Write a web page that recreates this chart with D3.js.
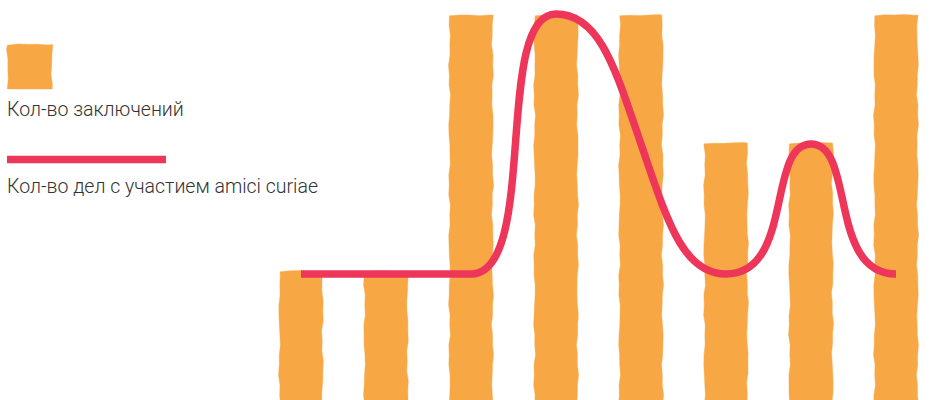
<!DOCTYPE html>
<html>
<head>
<meta charset="utf-8">
<script src="https://cdn.jsdelivr.net/npm/d3@7"></script>
<style>
  html, body { margin: 0; padding: 0; background: #fff; }
  svg { display: block; }
</style>
</head>
<body>
<svg id="chart" width="931" height="400"></svg>
<script>
// ---- data ----
const categories = ["1", "2", "3", "4", "5", "6", "7", "8"];
const conclusions = [1, 1, 3, 3, 3, 2, 2, 3];          // Кол-во заключений (bars)
const amiciCases  = [1, 1, 1, 3, 2, 1, 2, 1];          // Кол-во дел с участием amici curiae (line)
const legendLabels = ["Кол-во заключений", "Кол-во дел с участием amici curiae"];

// ---- styles ----
const barColor = "#F8A745";
const lineColor = "#EE365A";
const textColor = "#333333";

const svg = d3.select("#chart");

// scales
const x = d3.scalePoint().domain(categories).range([301, 896]);
const barW = 43;
const yBar = d3.scaleLinear().domain([0, 3]).range([399, 15]);
const yLine = d3.scaleLinear().domain([0, 3]).range([404, 14]);

// deterministic wobble for hand-drawn look
function wob(v, s) {
  return Math.sin(v * 0.11 + s * 1.7) * 0.7 + Math.sin(v * 0.29 + s * 3.1) * 0.45;
}
function roughRect(x0, x1, yTop, yBot, s) {
  const p = d3.path();
  const step = 10;
  p.moveTo(x0 + wob(yBot, s), yBot);
  for (let yy = yBot - step; yy > yTop; yy -= step) p.lineTo(x0 + wob(yy, s), yy);
  p.lineTo(x0 + wob(yTop, s) + 0.5, yTop + 0.8);
  for (let xx = x0 + step; xx < x1; xx += step) p.lineTo(xx, yTop + wob(xx, s + 5) * 0.6);
  p.lineTo(x1 + wob(yTop, s + 2), yTop);
  for (let yy = yTop + step; yy < yBot; yy += step) p.lineTo(x1 + wob(yy, s + 2), yy);
  p.lineTo(x1 + wob(yBot, s + 2), yBot);
  p.closePath();
  return p.toString();
}

// bars
svg.append("g").selectAll("path")
  .data(conclusions)
  .join("path")
  .attr("d", (d, i) => roughRect(x(categories[i]) - barW / 2, x(categories[i]) + barW / 2, yBar(d), 405, i * 2.3 + 1))
  .attr("fill", barColor)
  .attr("stroke", barColor)
  .attr("stroke-opacity", 0.5)
  .attr("stroke-width", 0.8);

// smoothed curve: horizontal tangents at extremes, steepened tangents elsewhere
function curveSmooth(unitPx) {
  return function (context) {
    return {
      areaStart() {}, areaEnd() {},
      lineStart() { this._pts = []; },
      point(px, py) { this._pts.push([+px, +py]); },
      lineEnd() {
        const p = this._pts, n = p.length, c = context;
        if (!n) return;
        c.moveTo(p[0][0], p[0][1]);
        const m = p.map((pt, i) => {
          if (i === 0 || i === n - 1) return 0;
          const s0 = (pt[1] - p[i - 1][1]) / (pt[0] - p[i - 1][0]);
          const s1 = (p[i + 1][1] - pt[1]) / (p[i + 1][0] - pt[0]);
          if (s0 * s1 <= 0) return 0;
          return 1.9 * (s0 + s1) / 2;
        });
        for (let i = 0; i < n - 1; i++) {
          const [x0, y0] = p[i], [x1, y1] = p[i + 1];
          const h = x1 - x0, dy = y1 - y0;
          if (dy === 0) { c.lineTo(x1, y1); continue; }
          const z0 = m[i] === 0, z1 = m[i + 1] === 0;
          let f0, f1;
          if (z0 && z1) {
            const hi = 0.3 + 0.22 * Math.abs(dy) / unitPx;
            if (y0 > y1) { f0 = 0.8; f1 = hi; } else { f0 = hi; f1 = 0.8; }
          } else {
            f0 = z0 ? 0.52 : 0.3;
            f1 = z1 ? 0.52 : 0.3;
          }
          c.bezierCurveTo(x0 + f0 * h, y0 + f0 * h * m[i], x1 - f1 * h, y1 - f1 * h * m[i + 1], x1, y1);
        }
      }
    };
  };
}

const line = d3.line()
  .x((d, i) => x(categories[i]))
  .y(d => yLine(d))
  .curve(curveSmooth(yLine(0) - yLine(1)));

svg.append("path")
  .datum(amiciCases)
  .attr("d", line)
  .attr("fill", "none")
  .attr("stroke", lineColor)
  .attr("stroke-width", 7.5)
  .attr("stroke-linejoin", "round")
  .attr("stroke-linecap", "butt");

// legend
const lg = svg.append("g");
lg.append("path")
  .attr("d", roughRect(7.5, 52, 44.5, 89, 11))
  .attr("fill", barColor)
  .attr("stroke", barColor)
  .attr("stroke-opacity", 0.5)
  .attr("stroke-width", 0.8);
lg.append("text")
  .attr("x", 7).attr("y", 116)
  .attr("fill", textColor)
  .style("font-family", "Roboto, 'Open Sans', sans-serif")
  .style("font-weight", 300)
  .style("font-size", "19.5px")
  .text(legendLabels[0]);
lg.append("line")
  .attr("x1", 7).attr("x2", 166)
  .attr("y1", 159.5).attr("y2", 159.5)
  .attr("stroke", lineColor)
  .attr("stroke-width", 7.5);
lg.append("text")
  .attr("x", 7).attr("y", 193)
  .attr("fill", textColor)
  .style("font-family", "Roboto, 'Open Sans', sans-serif")
  .style("font-weight", 300)
  .style("font-size", "19.5px")
  .text(legendLabels[1]);
</script>
</body>
</html>
